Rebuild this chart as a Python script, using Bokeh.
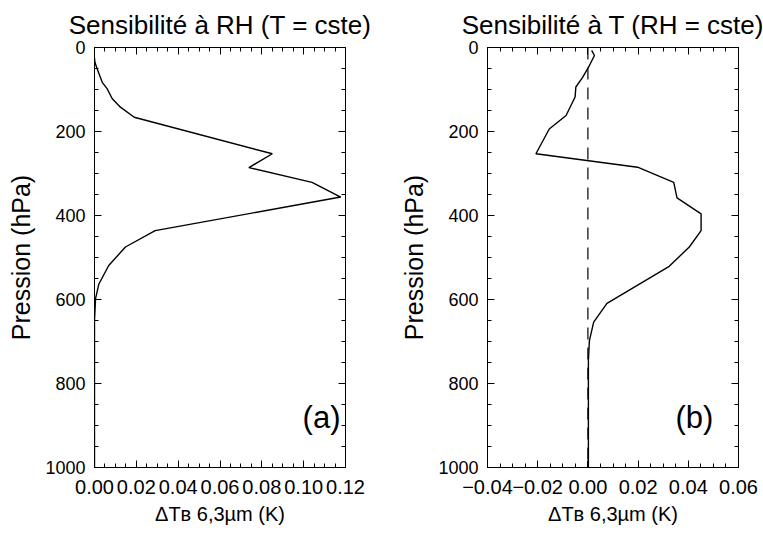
from bokeh.plotting import figure
from bokeh.models import FixedTicker, LinearAxis, Label, Range1d, Span, CustomLabelingPolicy
from bokeh.layouts import row
from bokeh.embed import file_html
from bokeh.resources import INLINE
import numpy as np

# ---- data ----
p_rh = [25, 35, 51, 83, 98, 122, 142, 166, 253, 286, 321, 356, 436, 475, 519, 563, 598, 650, 1000]
dtb_rh = [0.0, 0.0002, 0.0013, 0.0037, 0.006, 0.0085, 0.0124, 0.019, 0.085, 0.0738, 0.104, 0.1177,
          0.029, 0.0148, 0.0068, 0.0021, 0.0005, 0.0, 0.0]

p_t = [7, 19, 43, 71, 94, 118, 162, 194, 253, 285, 321, 358, 396, 436, 475, 521, 609, 654, 698, 745, 1000]
dtb_t = [0.0015, 0.0026, 0.0006, -0.0021, -0.0048, -0.0051, -0.0087, -0.0154, -0.0207, 0.0198, 0.0342,
         0.0355, 0.0451, 0.0451, 0.0404, 0.0324, 0.0076, 0.0023, 0.0006, 0.0002, 0.0002]

y_ticks = [0, 200, 400, 600, 800, 1000]
xa_ticks = [0.0, 0.02, 0.04, 0.06, 0.08, 0.10, 0.12]
xa_labels = ["0.00", "0.02", "0.04", "0.06", "0.08", "0.10", "0.12"]
xb_ticks = [-0.04, -0.02, 0.0, 0.02, 0.04, 0.06]
xb_labels = ["\u22120.04", "\u22120.02", "0.00", "0.02", "0.04", "0.06"]

titles = ["Sensibilit\u00e9 \u00e0 RH (T = cste)", "Sensibilit\u00e9 \u00e0 T (RH = cste)"]
panel_tags = ["(a)", "(b)"]
ylabel = "Pression (hPa)"
xlabel = "\u0394T\u0299 6,3\u00b5m (K)"

FONT = "Liberation Sans"
H = 530


def style_axis(ax, ticks, minor, labels=None, show_labels=True, size="20px"):
    ax.ticker = FixedTicker(ticks=ticks, minor_ticks=minor)
    ax.major_tick_in = 7
    ax.major_tick_out = 0
    ax.minor_tick_in = 4
    ax.minor_tick_out = 0
    ax.axis_line_color = "black"
    ax.major_tick_line_color = "black"
    ax.minor_tick_line_color = "black"
    ax.major_label_text_font = FONT
    ax.major_label_text_color = "black"
    if show_labels:
        ax.major_label_text_font_size = size
        ax.major_label_standoff = 9
    else:
        ax.major_label_text_font_size = "0px"
        ax.major_label_standoff = 0
        ax.major_label_policy = CustomLabelingPolicy(code="return new Set()")
    if labels is not None:
        ax.major_label_overrides = {t: l for t, l in zip(ticks, labels)}


def make_panel(width, bl, br, xr, xticks, xlabels, xminor, title, xs, ps):
    p = figure(width=width, height=H, output_backend="svg", toolbar_location=None,
               x_range=Range1d(*xr), y_range=Range1d(1000, 0),
               min_border_left=bl, min_border_right=br, min_border_top=47, min_border_bottom=63,
               title=title)
    p.title.text_font = FONT
    p.title.text_font_size = "26px"
    p.title.text_font_style = "normal"
    p.title.align = "center"
    p.title.text_color = "black"
    p.title.standoff = 15
    p.xgrid.visible = False
    p.ygrid.visible = False
    p.outline_line_color = "black"
    p.background_fill_color = "white"
    p.border_fill_color = "white"

    yminor = list(np.arange(0, 1001, 50))
    xa = p.xaxis[0]
    style_axis(xa, xticks, xminor, xlabels, True, "20px")
    xa.major_label_standoff = 12
    xa.axis_label = xlabel
    xa.axis_label_text_font = FONT
    xa.axis_label_text_font_size = "20px"
    xa.axis_label_text_font_style = "normal"
    xa.axis_label_text_color = "black"
    xa.axis_label_standoff = 6

    ya = p.yaxis[0]
    style_axis(ya, y_ticks, yminor, None, True, "18px")
    ya.axis_label = ylabel
    ya.axis_label_text_font = FONT
    ya.axis_label_text_font_size = "25px"
    ya.axis_label_text_font_style = "normal"
    ya.axis_label_text_color = "black"
    ya.axis_label_standoff = 7

    top = LinearAxis()
    style_axis(top, xticks, xminor, None, False)
    p.add_layout(top, "above")
    right = LinearAxis()
    style_axis(right, y_ticks, yminor, None, False)
    p.add_layout(right, "right")

    p.line(xs, ps, line_color="black", line_width=1.4)
    return p


xa_minor = list(np.round(np.arange(0.0, 0.1201, 0.005), 4))
xb_minor = list(np.round(np.arange(-0.04, 0.0601, 0.005), 4))

p1 = make_panel(380, 94, 35, (0.0, 0.12), xa_ticks, xa_labels, xa_minor, titles[0], dtb_rh, p_rh)
p2 = make_panel(383, 107, 25, (-0.04, 0.06), xb_ticks, xb_labels, xb_minor, titles[1], dtb_t, p_t)

p2.add_layout(Span(location=0.0, dimension="height", line_color="black", line_width=1.2,
                   line_dash="12 8"))

# panel tags
p1.add_layout(Label(x=0.1176, y=881, text=panel_tags[0], text_font=FONT, text_font_size="31px",
                    text_align="right", text_baseline="middle", text_color="black"))
p2.add_layout(Label(x=0.050, y=881, text=panel_tags[1], text_font=FONT, text_font_size="31px",
                    text_align="right", text_baseline="middle", text_color="black"))

layout = row(p1, p2)
open("out.html", "w").write(file_html(layout, INLINE))
